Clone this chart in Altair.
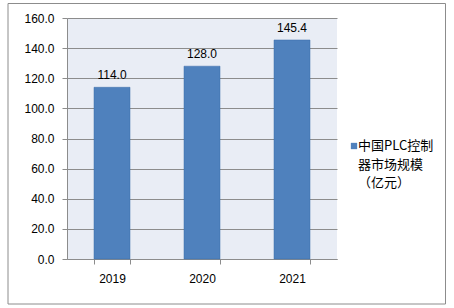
import altair as alt
import pandas as pd

years = ["2019", "2020", "2021"]
values = [114.0, 128.0, 145.4]
series_name = ["中国PLC控制", "器市场规模", "（亿元）"]
y_ticks = [0, 20, 40, 60, 80, 100, 120, 140, 160]

df = pd.DataFrame({"year": years, "value": values})

W, H = 270, 241
BAR = "#4F81BD"
NUMFONT = "Liberation Sans"
CJK = "Noto Sans CJK SC"

base = alt.Chart(df)

bars = base.mark_bar(color=BAR, stroke="#3A6DA8", strokeWidth=0.5).encode(
    x=alt.X(
        "year:N",
        title=None,
        sort=years,
        scale=alt.Scale(paddingInner=0.6, paddingOuter=0.3),
        axis=alt.Axis(
            labelAngle=0, labelFont=NUMFONT, labelFontSize=12, labelColor="#000000",
            tickBand="extent", tickSize=5, tickColor="#8C8C8C", domainColor="#8C8C8C",
            labelPadding=9, grid=False,
        ),
    ),
    y=alt.Y(
        "value:Q",
        title=None,
        scale=alt.Scale(domain=[0, 160], nice=False),
        axis=alt.Axis(
            values=y_ticks, format=".1f", labelOverlap=False, tickCount=9,
            labelFont=NUMFONT, labelFontSize=12, labelColor="#000000",
            tickSize=5, tickColor="#8C8C8C", domainColor="#8C8C8C",
            gridColor="#8C8C8C", gridWidth=1, labelPadding=8,
        ),
    ),
)

labels = base.mark_text(baseline="bottom", dy=-5, font=NUMFONT, fontSize=12, color="#000000").encode(
    x=alt.X("year:N", sort=years),
    y="value:Q",
    text=alt.Text("value:Q", format=".1f"),
)

one = alt.Data(values=[{"label": "\n".join(series_name)}])

legend_sym = alt.Chart(one).mark_square(color=BAR, size=40, opacity=1).encode(
    x=alt.value(287), y=alt.value(128)
)
legend_txt = alt.Chart(one).mark_text(
    align="left", baseline="middle", font=CJK, fontSize=13, lineBreak="\n",
    lineHeight=18.5, color="#000000",
).encode(x=alt.value(291), y=alt.value(128), text="label:N")

frame = alt.Chart(alt.Data(values=[{}])).mark_rect(
    fill=None, stroke="#8C8C8C", strokeWidth=1
).encode(x=alt.value(-59), x2=alt.value(378.5), y=alt.value(-14.5), y2=alt.value(286))

chart = alt.layer(bars, labels, legend_sym, legend_txt, frame).properties(
    width=W, height=H,
    autosize=alt.AutoSizeParams(type="none"),
    padding={"left": 67, "top": 18, "right": 117, "bottom": 49},
    background="#FFFFFF",
).configure_view(fill="#E9EDF5", stroke=None)

chart.save("out.html", embed_options={"renderer": "svg", "actions": False})
